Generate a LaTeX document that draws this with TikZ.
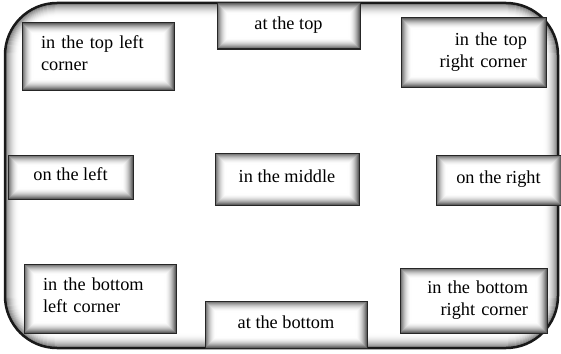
\documentclass[tikz,border=0pt]{standalone}
\usepackage{fontspec}
\setmainfont{Liberation Serif}

\tikzset{
  place/.style={draw=black!85, line width=1pt, fill=white, text=black,
    font=\fontsize{18.3}{22}\selectfont, inner ysep=0pt,
    path picture={
      \foreach \d in {1,...,11}{
        \pgfmathsetmacro{\tone}{62*(1-(\d-1)/11)^2}
        \draw[black!\tone, line width=1.3pt]
          ([shift={(\d pt,-\d pt)}]path picture bounding box.north west) rectangle
          ([shift={(-\d pt,\d pt)}]path picture bounding box.south east);
      }}},
  oneplace/.style={place, text height=12pt, text depth=5pt},
  leftplace/.style={place, align=left, inner xsep=19pt},
  rightplace/.style={place, align=right, inner xsep=19pt}
}

\begin{document}
\begin{tikzpicture}[x=1pt, y=-1pt]

            \useasboundingbox (0,0) rectangle (561,353);

            % frame with its inner shadow
            \fill[white, rounded corners=52pt] (5,3) rectangle (558,348);
            \foreach \d in {1,...,14}{
              \pgfmathsetmacro{\tone}{55*(1-(\d-1)/14)^2}
              \pgfmathsetmacro{\rad}{52-\d}
              \draw[black!\tone, line width=1.3pt, rounded corners=\rad pt]
                (5+\d,3+\d) rectangle (558-\d,348-\d);
            }
            \draw[line width=2.5pt, black!90, rounded corners=52pt] (5,3) rectangle (558,348);

            % top row
            \node[leftplace, text width=114pt, minimum height=67pt] (topleft) at (98,56.5) {in the top left\\corner\strut};
            \node[oneplace, minimum width=143pt, minimum height=46pt] (top) at (288.5,26) {at the top};
            \node[rightplace, text width=107pt, minimum height=69pt] (topright) at (473.5,52.5) {in the top\\right corner};

            % middle row
            \node[oneplace, minimum width=125pt, minimum height=44pt] (left) at (70.5,177) {on the left};
            \node[oneplace, minimum width=144pt, minimum height=52pt] (middle) at (287,179) {in the middle};
            \node[oneplace, minimum width=125pt, minimum height=50pt] (right) at (498.5,180) {on the right};

            % bottom row
            \node[leftplace, text width=114pt, minimum height=69pt] (bottomleft) at (100,298.5) {in the bottom\\left corner\strut};
            \node[oneplace, minimum width=162pt, minimum height=47pt] (bottom) at (286,324.5) {at the bottom};
            \node[rightplace, text width=109pt, minimum height=65pt] (bottomright) at (473.5,300.5) {in the bottom\\right corner};

        \end{tikzpicture}
\end{document}
